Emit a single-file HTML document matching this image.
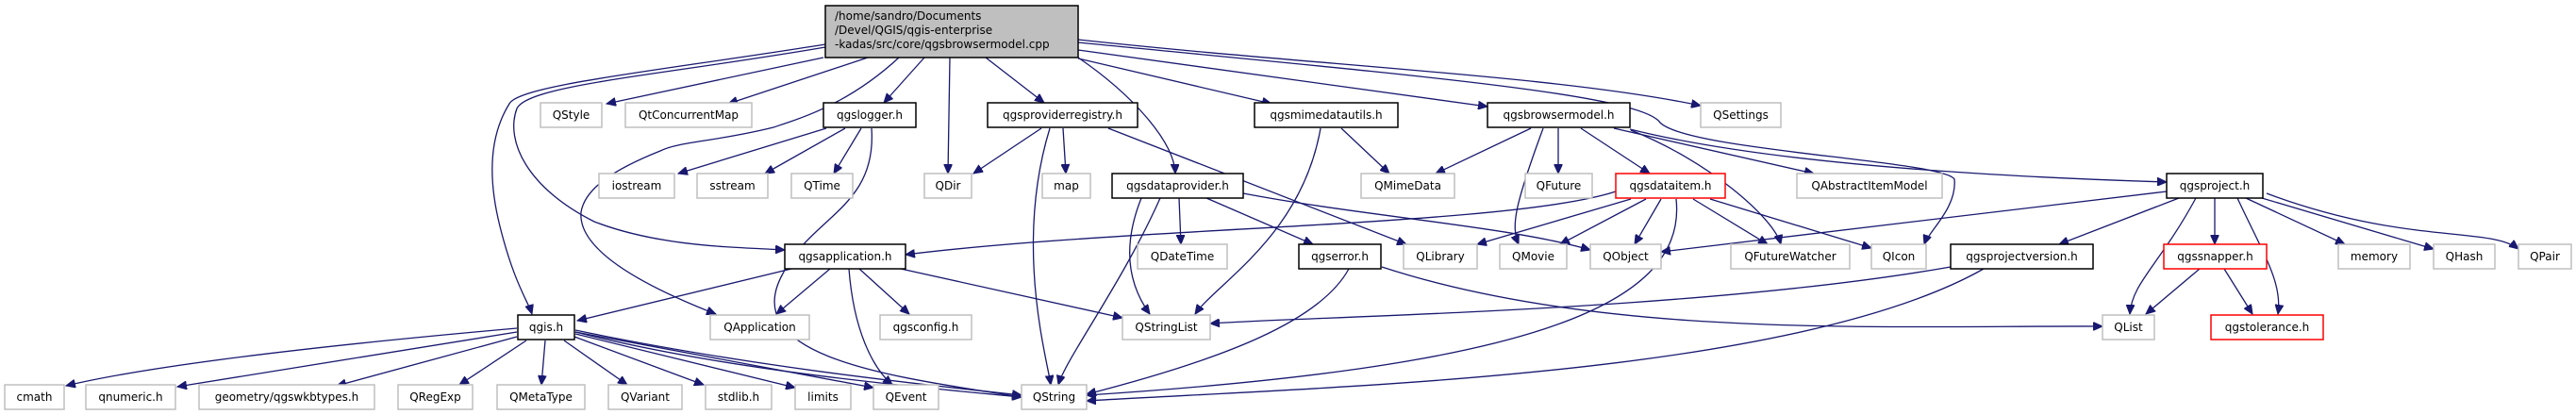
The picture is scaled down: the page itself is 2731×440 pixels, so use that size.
<!DOCTYPE html>
<html><head><meta charset="utf-8"><style>
html,body{margin:0;padding:0;background:#fff;}
svg{display:block;}
text{font-family:"DejaVu Sans","Liberation Sans",sans-serif;font-size:12px;fill:#000;}
.e{fill:none;stroke:#191970;stroke-width:1.3;marker-end:url(#a);}
.g{fill:#fff;stroke:#bfbfbf;stroke-width:1.5;}
.b{fill:#fff;stroke:#000;stroke-width:1.5;}
.r{fill:#fff;stroke:#ff0000;stroke-width:1.5;}
</style></head><body>
<svg width="2731" height="440" viewBox="0 0 2731 440" xmlns="http://www.w3.org/2000/svg">
<defs><marker id="a" markerWidth="11" markerHeight="9" refX="10" refY="4.5" orient="auto" markerUnits="userSpaceOnUse"><path d="M0,0 L10,4.5 L0,9 z" fill="#191970" stroke="#191970"/></marker></defs>

<!-- edges -->
<path class="e" d="M873,61 L643,110"/>
<path class="e" d="M920,61 L772,110"/>
<path class="e" d="M980,61 L937,109"/>
<path class="e" d="M1007,61 L1005,184"/>
<path class="e" d="M1045,61 L1107,109"/>
<path class="e" d="M1143,61 C1200,100 1245,150 1246,184"/>
<path class="e" d="M1143,62 L1348,110"/>
<path class="e" d="M1143,53 L1577,113"/>
<path class="e" d="M1143,42 C1400,70 1650,80 1803,112"/>
<path class="e" d="M1143,45 C1500,80 1740,100 1760,130 C1790,160 2060,170 2072,190 C2075,220 2045,245 2040,259"/>
<path class="e" d="M1728,137 C1900,180 2200,190 2297,193"/>
<path class="e" d="M875,50 C700,80 560,90 548,115 C535,150 560,200 630,235 C700,262 780,262 832,265"/>
<path class="e" d="M875,47 C700,75 550,90 540,110 C515,150 520,200 530,240 C545,300 560,320 564,333"/>
<path class="e" d="M953,61 C900,110 850,125 820,135 C760,150 720,150 700,160 C650,180 620,200 616,225 C612,270 700,310 759,333"/>

<path class="e" d="M876,136 L719,184"/>
<path class="e" d="M896,136 L811,184"/>
<path class="e" d="M913,136 L884,184"/>
<path class="e" d="M924,136 C930,220 860,230 830,290 C780,380 950,400 1083,421"/>

<path class="e" d="M1104,136 L1032,184"/>
<path class="e" d="M1127,136 L1130,184"/>
<path class="e" d="M1113,136 C1075,260 1110,380 1114,408"/>
<path class="e" d="M1175,136 L1491,259"/>

<path class="e" d="M1422,136 L1473,184"/>
<path class="e" d="M1400,136 C1380,250 1290,300 1267,333"/>

<path class="e" d="M1623,136 L1522,184"/>
<path class="e" d="M1636,136 C1605,220 1602,240 1610,259"/>
<path class="e" d="M1652,136 L1652,184"/>
<path class="e" d="M1676,136 L1749,184"/>
<path class="e" d="M1711,136 L1923,184"/>
<path class="e" d="M1729,138 C1810,170 1880,230 1888,259"/>

<path class="e" d="M1713,203 C1600,240 1200,240 960,270"/>
<path class="e" d="M1729,211 L1566,259"/>
<path class="e" d="M1745,211 L1654,259"/>
<path class="e" d="M1761,211 L1733,259"/>
<path class="e" d="M1795,211 L1874,259"/>
<path class="e" d="M1813,211 L1984,263"/>
<path class="e" d="M1777,211 C1790,330 1600,390 1152,419"/>

<path class="e" d="M1250,210 L1252,259"/>
<path class="e" d="M1279,210 L1392,259"/>
<path class="e" d="M1318,205 C1450,230 1600,240 1686,265"/>
<path class="e" d="M1210,210 C1190,260 1195,300 1219,333"/>
<path class="e" d="M1230,210 C1190,300 1130,380 1122,408"/>

<path class="e" d="M839,285 L612,340"/>
<path class="e" d="M880,285 L823,333"/>
<path class="e" d="M911,285 L964,333"/>
<path class="e" d="M955,285 L1190,337"/>
<path class="e" d="M900,285 C905,350 925,390 946,408"/>

<path class="e" d="M1430,285 C1400,340 1300,380 1152,418"/>
<path class="e" d="M1465,283 C1700,360 2000,345 2229,346"/>

<path class="e" d="M2297,203 L1761,267"/>
<path class="e" d="M2310,210 L2183,259"/>
<path class="e" d="M2328,210 C2290,280 2260,300 2258,333"/>
<path class="e" d="M2348,210 L2348,259"/>
<path class="e" d="M2372,210 C2400,270 2420,300 2415,333"/>
<path class="e" d="M2381,210 L2486,259"/>
<path class="e" d="M2398,210 L2580,264"/>
<path class="e" d="M2403,205 C2550,260 2640,240 2670,264"/>

<path class="e" d="M2068,283 C1800,330 1400,335 1283,343"/>
<path class="e" d="M2103,285 C1900,400 1400,410 1152,425"/>

<path class="e" d="M2332,285 L2275,333"/>
<path class="e" d="M2358,285 L2388,333"/>

<path class="e" d="M548,348 C300,370 150,390 70,409"/>
<path class="e" d="M548,352 L188,410"/>
<path class="e" d="M548,357 L357,409"/>
<path class="e" d="M558,361 L487,408"/>
<path class="e" d="M578,361 L574,408"/>
<path class="e" d="M598,361 L665,408"/>
<path class="e" d="M609,357 L746,408"/>
<path class="e" d="M610,354 L843,411"/>
<path class="e" d="M610,352 L926,411"/>
<path class="e" d="M610,350 C800,390 1000,410 1083,419"/>
<path class="e" d="M610,352 C780,395 990,412 1083,421"/>

<!-- nodes -->
<rect x="875" y="6" width="268" height="55" fill="#bfbfbf" stroke="#000" stroke-width="1.5"/>
<text x="885" y="21">/home/sandro/Documents</text>
<text x="885" y="36">/Devel/QGIS/qgis-enterprise</text>
<text x="885" y="51">-kadas/src/core/qgsbrowsermodel.cpp</text>

<g text-anchor="middle">
<rect class="g" x="573" y="109" width="65" height="26"/><text x="605.5" y="126">QStyle</text>
<rect class="g" x="663" y="109" width="134" height="26"/><text x="730" y="126">QtConcurrentMap</text>
<rect class="b" x="873" y="109" width="98" height="26"/><text x="922" y="126">qgslogger.h</text>
<rect class="b" x="1047" y="109" width="159" height="26"/><text x="1126.5" y="126">qgsproviderregistry.h</text>
<rect class="b" x="1330" y="109" width="152" height="26"/><text x="1406" y="126">qgsmimedatautils.h</text>
<rect class="b" x="1577" y="109" width="151" height="26"/><text x="1652.5" y="126">qgsbrowsermodel.h</text>
<rect class="g" x="1803" y="109" width="85" height="26"/><text x="1845.5" y="126">QSettings</text>

<rect class="g" x="635" y="184" width="80" height="26"/><text x="675" y="201">iostream</text>
<rect class="g" x="739" y="184" width="75" height="26"/><text x="776.5" y="201">sstream</text>
<rect class="g" x="839" y="184" width="65" height="26"/><text x="871.5" y="201">QTime</text>
<rect class="g" x="980" y="184" width="50" height="26"/><text x="1005" y="201">QDir</text>
<rect class="g" x="1105" y="184" width="51" height="26"/><text x="1130.5" y="201">map</text>
<rect class="b" x="1179" y="184" width="139" height="26"/><text x="1248.5" y="201">qgsdataprovider.h</text>
<rect class="g" x="1443" y="184" width="99" height="26"/><text x="1492.5" y="201">QMimeData</text>
<rect class="g" x="1617" y="184" width="71" height="26"/><text x="1652.5" y="201">QFuture</text>
<rect class="r" x="1713" y="184" width="116" height="26"/><text x="1771" y="201">qgsdataitem.h</text>
<rect class="g" x="1905" y="184" width="154" height="26"/><text x="1982" y="201">QAbstractItemModel</text>
<rect class="b" x="2297" y="184" width="102" height="26"/><text x="2348" y="201">qgsproject.h</text>

<rect class="b" x="832" y="259" width="128" height="26"/><text x="896" y="276">qgsapplication.h</text>
<rect class="g" x="1206" y="259" width="95" height="26"/><text x="1253.5" y="276">QDateTime</text>
<rect class="b" x="1377" y="259" width="87" height="26"/><text x="1420.5" y="276">qgserror.h</text>
<rect class="g" x="1488" y="259" width="78" height="26"/><text x="1527" y="276">QLibrary</text>
<rect class="g" x="1590" y="259" width="71" height="26"/><text x="1625.5" y="276">QMovie</text>
<rect class="g" x="1686" y="259" width="75" height="26"/><text x="1723.5" y="276">QObject</text>
<rect class="g" x="1835" y="259" width="126" height="26"/><text x="1898" y="276">QFutureWatcher</text>
<rect class="g" x="1984" y="259" width="58" height="26"/><text x="2013" y="276">QIcon</text>
<rect class="b" x="2068" y="259" width="151" height="26"/><text x="2143.5" y="276">qgsprojectversion.h</text>
<rect class="r" x="2294" y="259" width="109" height="26"/><text x="2348.5" y="276">qgssnapper.h</text>
<rect class="g" x="2479" y="259" width="76" height="26"/><text x="2517" y="276">memory</text>
<rect class="g" x="2580" y="259" width="65" height="26"/><text x="2612.5" y="276">QHash</text>
<rect class="g" x="2670" y="259" width="56" height="26"/><text x="2698" y="276">QPair</text>

<rect class="b" x="549" y="334" width="60" height="26"/><text x="579" y="351">qgis.h</text>
<rect class="g" x="753" y="334" width="105" height="26"/><text x="805.5" y="351">QApplication</text>
<rect class="g" x="933" y="334" width="97" height="26"/><text x="981.5" y="351">qgsconfig.h</text>
<rect class="g" x="1190" y="334" width="93" height="26"/><text x="1236.5" y="351">QStringList</text>
<rect class="g" x="2229" y="334" width="55" height="26"/><text x="2256.5" y="351">QList</text>
<rect class="r" x="2344" y="334" width="119" height="26"/><text x="2403.5" y="351">qgstolerance.h</text>

<rect class="g" x="5" y="408" width="63" height="26"/><text x="36.5" y="425">cmath</text>
<rect class="g" x="91" y="408" width="95" height="26"/><text x="138.5" y="425">qnumeric.h</text>
<rect class="g" x="211" y="408" width="186" height="26"/><text x="304" y="425">geometry/qgswkbtypes.h</text>
<rect class="g" x="422" y="408" width="79" height="26"/><text x="461.5" y="425">QRegExp</text>
<rect class="g" x="527" y="408" width="93" height="26"/><text x="573.5" y="425">QMetaType</text>
<rect class="g" x="645" y="408" width="78" height="26"/><text x="684" y="425">QVariant</text>
<rect class="g" x="748" y="408" width="70" height="26"/><text x="783" y="425">stdlib.h</text>
<rect class="g" x="843" y="408" width="59" height="26"/><text x="872.5" y="425">limits</text>
<rect class="g" x="926" y="408" width="69" height="26"/><text x="960.5" y="425">QEvent</text>
<rect class="g" x="1083" y="408" width="69" height="26"/><text x="1117.5" y="425">QString</text>
</g>
</svg>
</body></html>
